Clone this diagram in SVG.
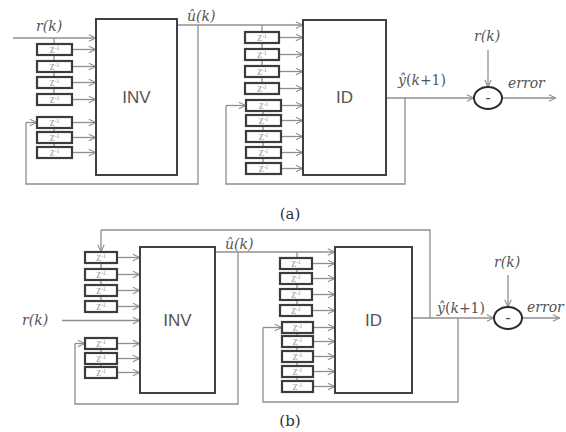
<svg xmlns="http://www.w3.org/2000/svg" width="566" height="432" viewBox="0 0 566 432">
<style>
.ln{fill:none;stroke:#8f8f8f;stroke-width:1.3}
.ar{fill:none;stroke:#8f8f8f;stroke-width:1.3;marker-end:url(#ah)}
.blk{fill:#fff;stroke:#404040;stroke-width:2}
.z{fill:#fff;stroke:#3c3c3c;stroke-width:2.2}
.zt{font-family:"Liberation Serif",serif;font-size:8px;fill:#8a8a8a;text-anchor:middle}
.bt{font-family:"Liberation Sans",Arial,sans-serif;font-size:17px;fill:#555;text-anchor:middle}
.lb{font-family:"DejaVu Serif","Liberation Serif",serif;font-style:italic;font-size:14px;fill:#555}
.up{font-style:normal}
.cap{font-family:"DejaVu Serif","Liberation Serif",serif;font-size:15px;fill:#333;text-anchor:middle}
.sum{fill:#fff;stroke:#2a2a2a;stroke-width:2}
</style>
<defs>
<marker id="ah" viewBox="0 0 10 10" refX="10" refY="5" markerWidth="8" markerHeight="8" orient="auto" markerUnits="userSpaceOnUse">
<path d="M1,1 L10,5 L1,9" fill="none" stroke="#8f8f8f" stroke-width="1.4"/>
</marker>
<g id="zt"><text class="zt">Z<tspan font-size="5.5" dy="-3">-1</tspan></text></g>
</defs>
<rect width="566" height="432" fill="#fff"/>

<g id="connectors">
<!-- (a) -->
<path class="ar" d="M13,38 H96"/>
<path class="ln" d="M54,38 V94"/>
<path class="ln" d="M54,117 V150"/>
<path class="ar" d="M72,49.5 H96"/>
<path class="ar" d="M72,66.5 H96"/>
<path class="ar" d="M72,82.5 H96"/>
<path class="ar" d="M72,99.5 H96"/>
<path class="ar" d="M72,122.5 H96"/>
<path class="ar" d="M72,137.5 H96"/>
<path class="ar" d="M72,152.5 H96"/>
<path class="ar" d="M177,25 H303"/>
<path class="ln" d="M198,25 V184 H26 V122.5"/>
<path class="ar" d="M26,122.5 H37"/>
<path class="ln" d="M262,25 V83"/>
<path class="ln" d="M263,100 V163"/>
<path class="ar" d="M279,37.5 H303"/>
<path class="ar" d="M279,54.5 H303"/>
<path class="ar" d="M279,71.5 H303"/>
<path class="ar" d="M279,88.5 H303"/>
<path class="ar" d="M281,105.5 H303"/>
<path class="ar" d="M281,120.5 H303"/>
<path class="ar" d="M281,136.5 H303"/>
<path class="ar" d="M281,152.5 H303"/>
<path class="ar" d="M281,168.5 H303"/>
<path class="ar" d="M386,98 H474"/>
<path class="ln" d="M405,98 V184 H226 V105.5"/>
<path class="ar" d="M226,105.5 H246"/>
<path class="ar" d="M488,50 V87"/>
<path class="ar" d="M502,98 H556"/>
<!-- (b) -->
<path class="ar" d="M62,320.5 H140"/>
<path class="ln" d="M430,318 V230 H101"/>
<path class="ar" d="M101,230 V252"/>
<path class="ln" d="M101,252 V301"/>
<path class="ln" d="M101,338 V367"/>
<path class="ar" d="M117,257.5 H140"/>
<path class="ar" d="M117,274.5 H140"/>
<path class="ar" d="M117,290.5 H140"/>
<path class="ar" d="M117,306.5 H140"/>
<path class="ar" d="M117,343.5 H140"/>
<path class="ar" d="M117,358.5 H140"/>
<path class="ar" d="M117,372.5 H140"/>
<path class="ar" d="M215,252 H335"/>
<path class="ln" d="M238,252 V404 H75 V343.5"/>
<path class="ar" d="M75,343.5 H85"/>
<path class="ln" d="M297,252 V305"/>
<path class="ln" d="M297,322 V381"/>
<path class="ar" d="M312,263.5 H335"/>
<path class="ar" d="M312,278.5 H335"/>
<path class="ar" d="M312,294.5 H335"/>
<path class="ar" d="M312,310.5 H335"/>
<path class="ar" d="M313,327.5 H335"/>
<path class="ar" d="M313,341.5 H335"/>
<path class="ar" d="M313,356.5 H335"/>
<path class="ar" d="M313,371.5 H335"/>
<path class="ar" d="M313,386.5 H335"/>
<path class="ar" d="M412,318 H494"/>
<path class="ln" d="M458,318 V402 H263 V327.5"/>
<path class="ar" d="M263,327.5 H282"/>
<path class="ar" d="M508,275 V307"/>
<path class="ar" d="M522,318 H560"/>
</g>

<!-- (a) nodes -->
<g id="inv_a"><rect class="blk" x="96" y="19" width="81" height="156"/><text class="bt" x="136.5" y="103">INV</text></g>
<g id="id_a"><rect class="blk" x="303" y="20" width="83" height="155"/><text class="bt" x="344.5" y="103">ID</text></g>
<g id="sum_a"><ellipse class="sum" cx="488" cy="98" rx="14" ry="11"/><text class="bt" x="488" y="103" font-size="13">-</text></g>

<g id="za1"><rect class="z" x="37" y="44" width="35" height="11"/><use href="#zt" x="54.5" y="52.5"/></g>
<g id="za2"><rect class="z" x="37" y="61" width="35" height="11"/><use href="#zt" x="54.5" y="69.5"/></g>
<g id="za3"><rect class="z" x="37" y="77" width="35" height="11"/><use href="#zt" x="54.5" y="85.5"/></g>
<g id="za4"><rect class="z" x="37" y="94" width="35" height="11"/><use href="#zt" x="54.5" y="102.5"/></g>
<g id="za5"><rect class="z" x="37" y="117" width="35" height="11"/><use href="#zt" x="54.5" y="125.5"/></g>
<g id="za6"><rect class="z" x="37" y="132" width="35" height="11"/><use href="#zt" x="54.5" y="140.5"/></g>
<g id="za7"><rect class="z" x="37" y="147" width="35" height="11"/><use href="#zt" x="54.5" y="155.5"/></g>

<g id="zb1"><rect class="z" x="245" y="32" width="34" height="11"/><use href="#zt" x="262" y="40.5"/></g>
<g id="zb2"><rect class="z" x="245" y="49" width="34" height="11"/><use href="#zt" x="262" y="57.5"/></g>
<g id="zb3"><rect class="z" x="245" y="66" width="34" height="11"/><use href="#zt" x="262" y="74.5"/></g>
<g id="zb4"><rect class="z" x="245" y="83" width="34" height="11"/><use href="#zt" x="262" y="91.5"/></g>
<g id="zb5"><rect class="z" x="246" y="100" width="35" height="11"/><use href="#zt" x="263.5" y="108.5"/></g>
<g id="zb6"><rect class="z" x="246" y="115" width="35" height="11"/><use href="#zt" x="263.5" y="123.5"/></g>
<g id="zb7"><rect class="z" x="246" y="131" width="35" height="11"/><use href="#zt" x="263.5" y="139.5"/></g>
<g id="zb8"><rect class="z" x="246" y="147" width="35" height="11"/><use href="#zt" x="263.5" y="155.5"/></g>
<g id="zb9"><rect class="z" x="246" y="163" width="35" height="11"/><use href="#zt" x="263.5" y="171.5"/></g>

<!-- (b) nodes -->
<g id="inv_b"><rect class="blk" x="140" y="247" width="75" height="146"/><text class="bt" x="177.5" y="326">INV</text></g>
<g id="id_b"><rect class="blk" x="335" y="247" width="77" height="146"/><text class="bt" x="373.5" y="326">ID</text></g>
<g id="sum_b"><ellipse class="sum" cx="508" cy="318" rx="14" ry="11"/><text class="bt" x="508" y="323" font-size="13">-</text></g>

<g id="zc1"><rect class="z" x="85" y="252" width="32" height="11"/><use href="#zt" x="101" y="260.5"/></g>
<g id="zc2"><rect class="z" x="85" y="269" width="32" height="11"/><use href="#zt" x="101" y="277.5"/></g>
<g id="zc3"><rect class="z" x="85" y="285" width="32" height="11"/><use href="#zt" x="101" y="293.5"/></g>
<g id="zc4"><rect class="z" x="85" y="301" width="32" height="11"/><use href="#zt" x="101" y="309.5"/></g>
<g id="zc5"><rect class="z" x="85" y="338" width="32" height="11"/><use href="#zt" x="101" y="346.5"/></g>
<g id="zc6"><rect class="z" x="85" y="353" width="32" height="11"/><use href="#zt" x="101" y="361.5"/></g>
<g id="zc7"><rect class="z" x="85" y="367" width="32" height="11"/><use href="#zt" x="101" y="375.5"/></g>

<g id="zd1"><rect class="z" x="280" y="258" width="32" height="11"/><use href="#zt" x="296" y="266.5"/></g>
<g id="zd2"><rect class="z" x="280" y="273" width="32" height="11"/><use href="#zt" x="296" y="281.5"/></g>
<g id="zd3"><rect class="z" x="280" y="289" width="32" height="11"/><use href="#zt" x="296" y="297.5"/></g>
<g id="zd4"><rect class="z" x="280" y="305" width="32" height="11"/><use href="#zt" x="296" y="313.5"/></g>
<g id="zd5"><rect class="z" x="282" y="322" width="31" height="11"/><use href="#zt" x="297.5" y="330.5"/></g>
<g id="zd6"><rect class="z" x="282" y="336" width="31" height="11"/><use href="#zt" x="297.5" y="344.5"/></g>
<g id="zd7"><rect class="z" x="282" y="351" width="31" height="11"/><use href="#zt" x="297.5" y="359.5"/></g>
<g id="zd8"><rect class="z" x="282" y="366" width="31" height="11"/><use href="#zt" x="297.5" y="374.5"/></g>
<g id="zd9"><rect class="z" x="282" y="381" width="31" height="11"/><use href="#zt" x="297.5" y="389.5"/></g>

<g id="labels">
<text class="lb" x="36" y="31">r(k)</text>
<text class="lb" x="187" y="21">û(k)</text>
<text class="lb" x="398" y="85" font-size="15">ŷ<tspan class="up">(</tspan>k<tspan class="up">+1)</tspan></text>
<text class="lb" x="474" y="41">r(k)</text>
<text class="lb" x="508" y="88">error</text>
<text class="cap" x="290" y="219">(a)</text>
<text class="lb" x="22" y="325">r(k)</text>
<text class="lb" x="225" y="249">û(k)</text>
<text class="lb" x="437" y="313" font-size="14">ŷ<tspan class="up">(</tspan>k<tspan class="up">+1)</tspan></text>
<text class="lb" x="494" y="267">r(k)</text>
<text class="lb" x="527" y="312">error</text>
<text class="cap" x="290" y="426">(b)</text>
</g>
</svg>
